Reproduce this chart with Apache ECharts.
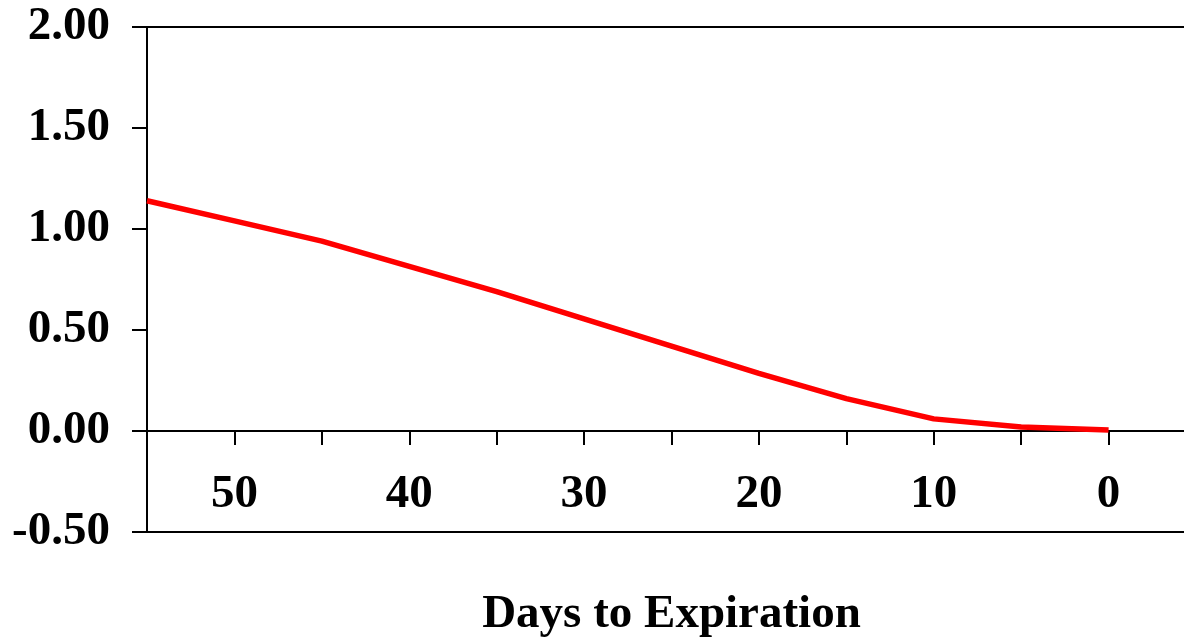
<!DOCTYPE html>
<html>
<head>
<meta charset="utf-8">
<script src="https://cdn.jsdelivr.net/npm/echarts@6/dist/echarts.min.js"></script>
<style>
html,body{margin:0;padding:0;background:#fff;}
#chart{width:1184px;height:638px;}
</style>
</head>
<body>
<div id="chart"></div>
<script>
// Data
const daysToExpiration = [55, 50, 45, 40, 35, 30, 25, 20, 15, 10, 5, 0];
const optionValues = [1.14, 1.04, 0.94, 0.815, 0.69, 0.555, 0.42, 0.285, 0.16, 0.06, 0.02, 0.005];
const xAxisTitle = 'Days to Expiration';
const xLabelValues = [50, 40, 30, 20, 10, 0];

const fontFam = "'Liberation Serif', 'Times New Roman', serif";
const chart = echarts.init(document.getElementById('chart'));
const seriesData = daysToExpiration.map((d, i) => [d, optionValues[i]]);

chart.setOption({
  animation: false,
  backgroundColor: '#fff',
  grid: {
    left: 147, right: -12, top: 27, bottom: 106,
    containLabel: false,
    outerBoundsMode: 'none',
    show: true, borderColor: '#000', borderWidth: 2, backgroundColor: 'transparent'
  },
  xAxis: {
    type: 'value',
    inverse: true,
    min: -5, max: 55, interval: 5,
    axisLine: { show: true, onZero: true, lineStyle: { color: '#000', width: 2 } },
    axisTick: { show: true, length: 14, lineStyle: { color: '#000', width: 2 } },
    splitLine: { show: false },
    axisLabel: {
      margin: -61,
      color: '#000', fontFamily: fontFam, fontWeight: 'bold', fontSize: 47,
      formatter: v => xLabelValues.indexOf(v) >= 0 ? String(v) : ''
    },
    name: xAxisTitle,
    nameLocation: 'middle',
    nameGap: 59,
    nameTextStyle: { color: '#000', fontFamily: fontFam, fontWeight: 'bold', fontSize: 47 }
  },
  yAxis: {
    type: 'value',
    min: -0.5, max: 2, interval: 0.5,
    axisLine: { show: true, onZero: false, lineStyle: { color: '#000', width: 2 } },
    axisTick: { show: true, length: 15, lineStyle: { color: '#000', width: 2 } },
    splitLine: { show: false },
    axisLabel: {
      margin: 37,
      color: '#000', fontFamily: fontFam, fontWeight: 'bold', fontSize: 47,
      formatter: v => v.toFixed(2)
    }
  },
  series: [{
    type: 'line',
    data: seriesData,
    symbol: 'none',
    smooth: false,
    lineStyle: { color: '#ff0000', width: 5.5 },
    z: 5
  }]
});
</script>
</body>
</html>
